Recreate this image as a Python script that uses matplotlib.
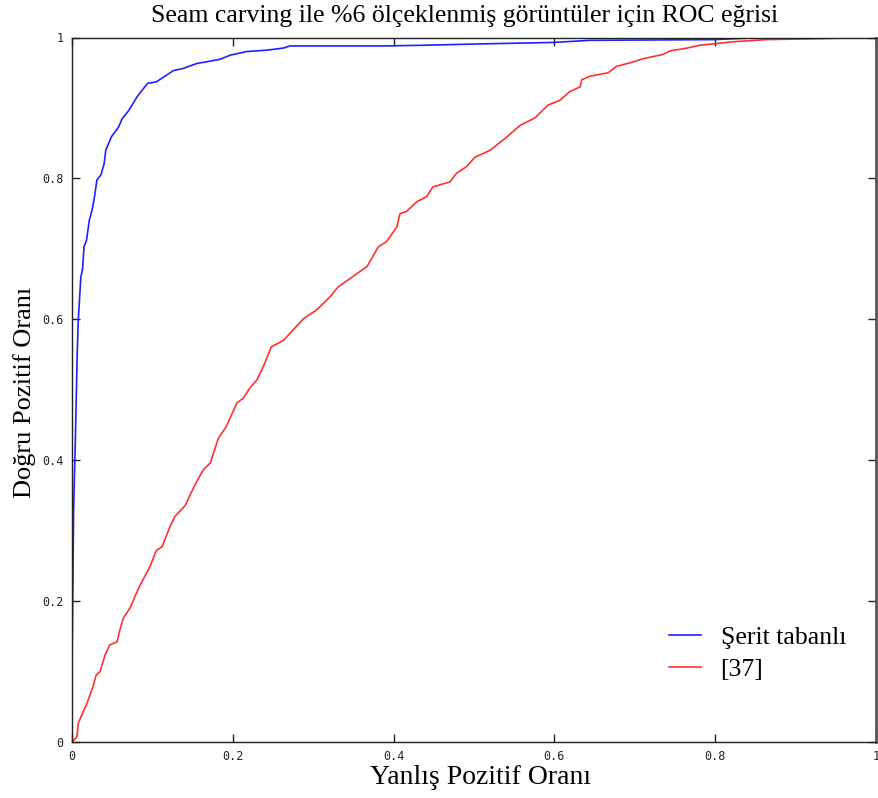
import matplotlib
matplotlib.use("Agg")
import matplotlib.pyplot as plt

# ROC curve of the strip-based method
fpr_strip = [0.0, 0.0, 0.001, 0.002, 0.004, 0.0066, 0.0078, 0.011, 0.013, 0.015, 0.018,
             0.0216, 0.025, 0.028, 0.031, 0.036, 0.040, 0.042, 0.049, 0.058, 0.062,
             0.071, 0.081, 0.094, 0.105, 0.126, 0.138, 0.155, 0.184, 0.197, 0.217,
             0.242, 0.263, 0.271, 0.387, 0.437, 0.512, 0.599, 0.644, 0.798, 0.86, 1.0]
tpr_strip = [0.0, 0.10, 0.21, 0.33, 0.42, 0.556, 0.599, 0.660, 0.670, 0.703, 0.712,
             0.741, 0.755, 0.774, 0.798, 0.805, 0.821, 0.840, 0.859, 0.873, 0.884,
             0.897, 0.916, 0.935, 0.937, 0.953, 0.956, 0.963, 0.969, 0.975, 0.980,
             0.982, 0.985, 0.988, 0.988, 0.989, 0.991, 0.993, 0.996, 0.997, 1.0, 1.0]

# ROC curve of the reference method [37]
fpr_ref = [0.0, 0.006, 0.008, 0.012, 0.018, 0.026, 0.030, 0.035, 0.041, 0.047, 0.056,
           0.060, 0.064, 0.072, 0.082, 0.089, 0.097, 0.105, 0.112, 0.122, 0.128,
           0.141, 0.147, 0.153, 0.163, 0.172, 0.182, 0.192, 0.201, 0.205, 0.213,
           0.221, 0.230, 0.238, 0.248, 0.263, 0.288, 0.304, 0.321, 0.331, 0.346,
           0.367, 0.381, 0.391, 0.404, 0.408, 0.416, 0.429, 0.441, 0.449, 0.470,
           0.478, 0.491, 0.501, 0.520, 0.539, 0.557, 0.576, 0.592, 0.607, 0.619,
           0.632, 0.634, 0.644, 0.667, 0.677, 0.694, 0.711, 0.735, 0.744, 0.765,
           0.781, 0.798, 0.823, 0.864, 0.914, 1.0]
tpr_ref = [0.0, 0.007, 0.027, 0.038, 0.053, 0.078, 0.095, 0.100, 0.123, 0.138, 0.142,
           0.161, 0.176, 0.190, 0.216, 0.232, 0.249, 0.272, 0.277, 0.306, 0.320,
           0.336, 0.351, 0.365, 0.386, 0.396, 0.431, 0.448, 0.471, 0.481, 0.488,
           0.502, 0.514, 0.533, 0.561, 0.570, 0.601, 0.613, 0.632, 0.646, 0.658,
           0.675, 0.703, 0.710, 0.731, 0.750, 0.753, 0.767, 0.774, 0.788, 0.795,
           0.807, 0.817, 0.830, 0.840, 0.857, 0.875, 0.886, 0.904, 0.911, 0.923,
           0.930, 0.940, 0.945, 0.950, 0.959, 0.964, 0.970, 0.976, 0.981, 0.985,
           0.989, 0.991, 0.994, 0.997, 0.998, 1.0]

series_labels = ["Şerit tabanlı", "[37]"]
x_ticks = [0, 0.2, 0.4, 0.6, 0.8, 1]
x_tick_labels = ["0", "0.2", "0.4", "0.6", "0.8", "1"]
title = "Seam carving ile %6 ölçeklenmiş görüntüler için ROC eğrisi"
xlabel = "Yanlış Pozitif Oranı"
ylabel = "Doğru Pozitif Oranı"

serif = ["Liberation Serif", "DejaVu Serif"]

fig = plt.figure(figsize=(8.79, 7.98), dpi=100)
ax = fig.add_axes([72 / 879, 1 - 742 / 798, 804 / 879, 704.5 / 798])

ax.plot(fpr_strip, tpr_strip, color="#2020ff", lw=1.2, label=series_labels[0])
ax.plot(fpr_ref, tpr_ref, color="#ff3030", lw=1.2, label=series_labels[1])

ax.set_xlim(0, 1)
ax.set_ylim(0, 1)
ax.set_xticks(x_ticks)
ax.set_xticklabels(x_tick_labels)
ax.set_yticks(x_ticks)
ax.set_yticklabels(x_tick_labels)
ax.tick_params(direction="in", length=6, width=1, top=True, right=True,
               labelsize=8.5, pad=6, colors="#222222")
for lbl in ax.get_xticklabels() + ax.get_yticklabels():
    lbl.set_family("DejaVu Sans Mono")
for side in ["left", "bottom", "top"]:
    ax.spines[side].set_color("#222222")
    ax.spines[side].set_linewidth(1.0)
ax.spines["right"].set_color("#555555")
ax.spines["right"].set_linewidth(2.0)

fig.text(465 / 879, 1 - 16 / 798, title, ha="center", va="center",
         family=serif, fontsize=18.5)
fig.text(481 / 879, 1 - 778 / 798, xlabel, ha="center", va="center",
         family=serif, fontsize=20)
fig.text(25 / 879, 1 - 392 / 798, ylabel, ha="center", va="center",
         rotation=90, family=serif, fontsize=19)

leg = ax.legend(loc="upper left", bbox_to_anchor=(0.714, 0.198), frameon=False,
                prop={"family": serif, "size": 18.5}, handlelength=1.25,
                handletextpad=0.75, labelspacing=0.36)

fig.savefig("out.png", dpi=100, facecolor="white")
